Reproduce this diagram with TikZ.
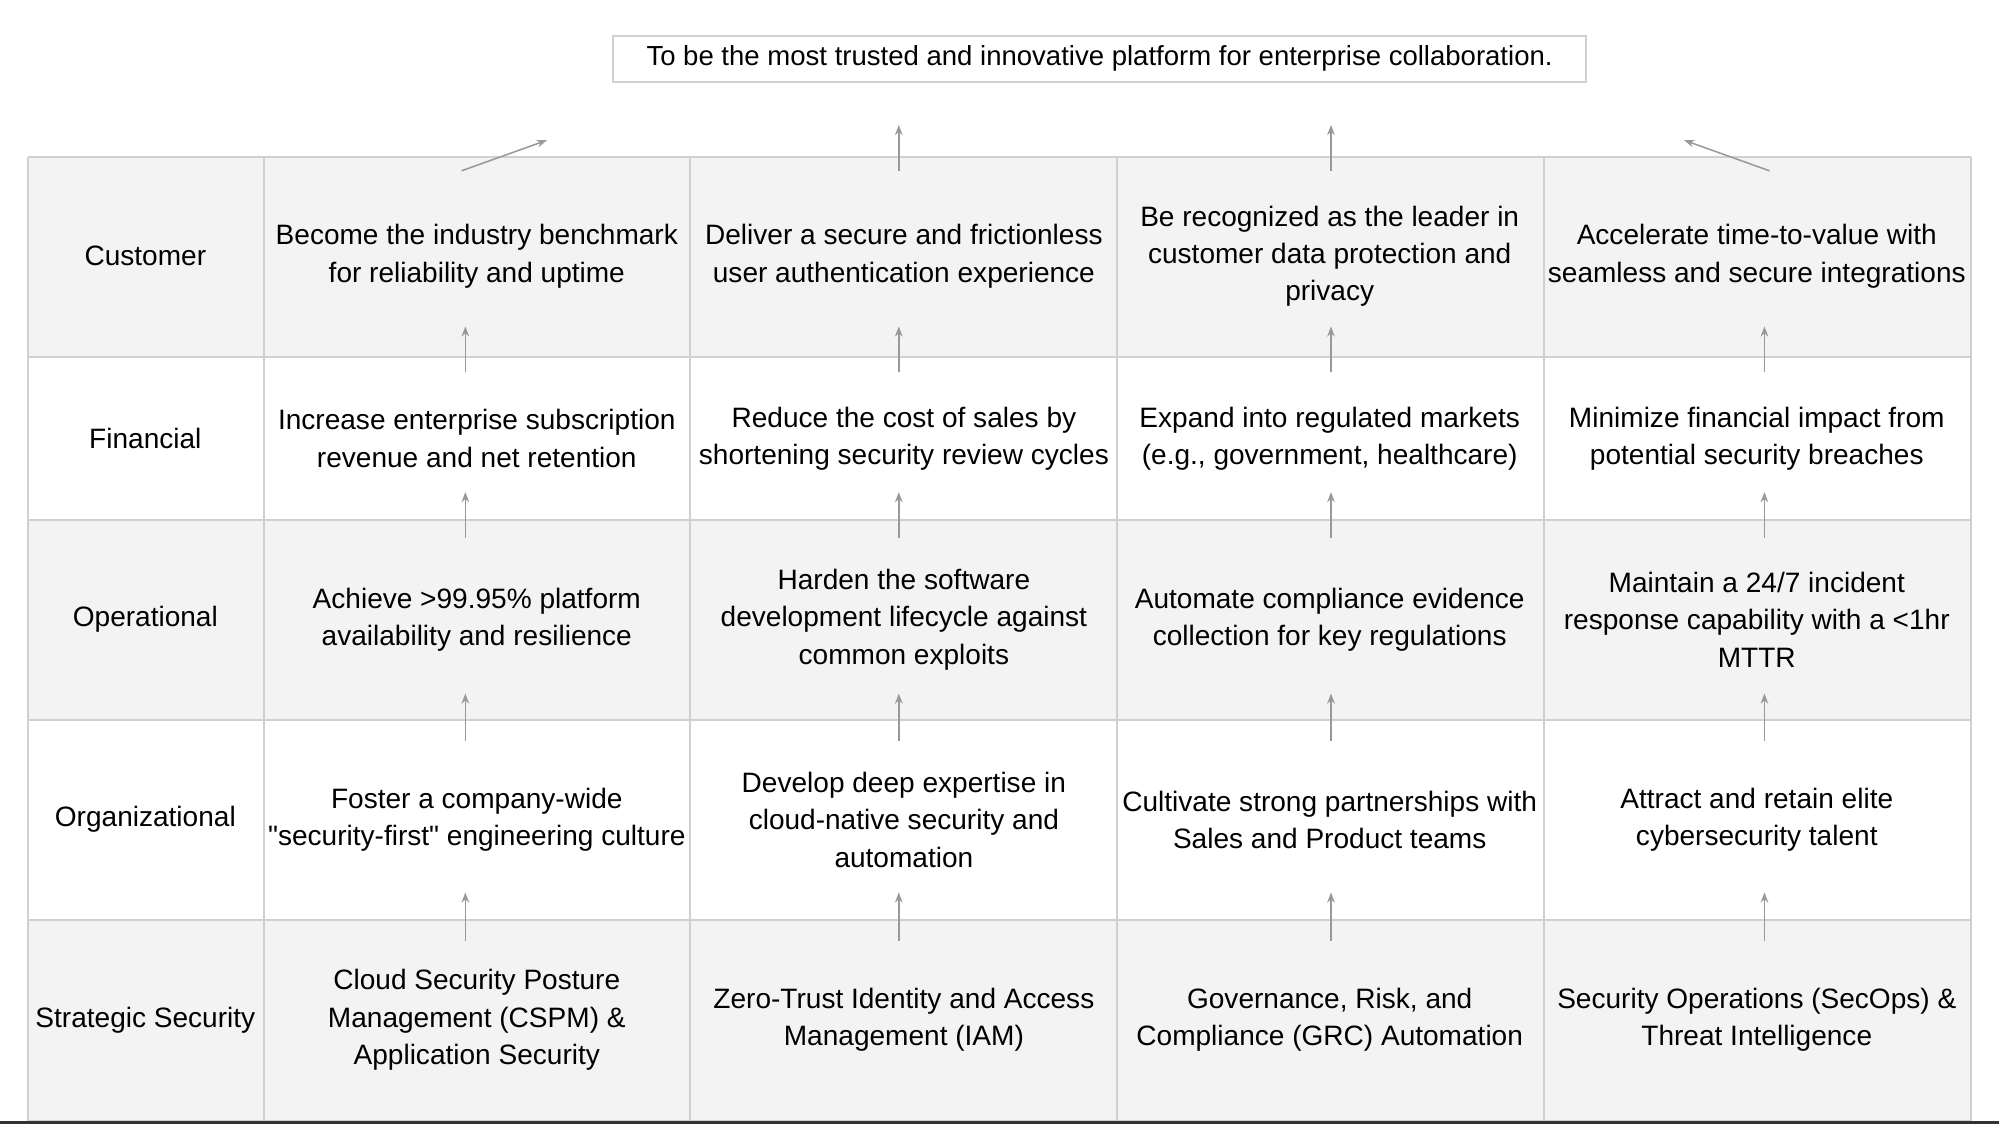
\documentclass[tikz,border=0pt]{standalone}
\usepackage{fontspec}
\setmainfont{Liberation Sans}
\definecolor{cellgray}{HTML}{F3F3F3}
\definecolor{gridline}{HTML}{D0D0D0}
\definecolor{arrowgray}{HTML}{999999}
\usetikzlibrary{arrows.meta}
\tikzset{
  cell/.style={minimum height=#1, inner sep=2pt, align=center, font=\fontsize{11}{14.7}\selectfont},
  goal/.style={cell=#1},
  label/.style={cell=#1},
  up/.style={draw=arrowgray, line width=0.6pt, -{Stealth[length=4pt,width=3pt]}}
}
\begin{document}
\begin{tikzpicture}[x=0.5pt,y=-0.5pt]
\useasboundingbox (0,0) rectangle (1568,882);
% Row backgrounds
\fill[cellgray] (22,123) rectangle (1546,280);
\fill[cellgray] (22,408) rectangle (1546,565);
\fill[cellgray] (22,722) rectangle (1546,879);
% Grid
\foreach \y in {123,280,408,565,722,879} \draw[gridline, line width=0.8pt] (22,\y) -- (1546,\y);
\foreach \x in {22,207,541,876,1211,1546} \draw[gridline, line width=0.8pt] (\x,123) -- (\x,879);
\draw[black!80, line width=1pt] (0,880.5) -- (1568,880.5);

% Vision
\node[draw=gridline, line width=0.8pt, minimum width=763*0.5pt, minimum height=36*0.5pt, inner sep=0pt, font=\fontsize{10.8}{13}\selectfont] (vision) at (862.5,46) {To be the most trusted and innovative platform for enterprise collaboration.};

% Row labels
\node[label=78pt] (lcust) at (114,201) {Customer};
\node[label=64pt] (lfin) at (114,344) {Financial};
\node[label=78pt] (lop) at (114,486) {Operational};
\node[label=78pt] (lorg) at (114,643) {Organizational};
\node[label=78pt] (lsec) at (114,800) {Strategic Security};

% Customer
\node[goal=78pt] (cust1) at (374,201) {Become the industry benchmark\\for reliability and uptime};
\node[goal=78pt] (cust2) at (709,201) {Deliver a secure and frictionless\\user authentication experience};
\node[goal=78pt] (cust3) at (1043,201) {Be recognized as the leader in\\customer data protection and\\privacy};
\node[goal=78pt] (cust4) at (1378,201) {Accelerate time-to-value with\\seamless and secure integrations};
% Financial
\node[goal=64pt] (fin1) at (374,344) {Increase enterprise subscription\\revenue and net retention};
\node[goal=64pt] (fin2) at (709,344) {Reduce the cost of sales by\\shortening security review cycles};
\node[goal=64pt] (fin3) at (1043,344) {Expand into regulated markets\\(e.g., government, healthcare)};
\node[goal=64pt] (fin4) at (1378,344) {Minimize financial impact from\\potential security breaches};
% Operational
\node[goal=78pt] (op1) at (374,486) {Achieve >99.95\% platform\\availability and resilience};
\node[goal=78pt] (op2) at (709,486) {Harden the software\\development lifecycle against\\common exploits};
\node[goal=78pt] (op3) at (1043,486) {Automate compliance evidence\\collection for key regulations};
\node[goal=78pt] (op4) at (1378,486) {Maintain a 24/7 incident\\response capability with a <1hr\\MTTR};
% Organizational
\node[goal=78pt] (org1) at (374,643) {Foster a company-wide\\\textquotedbl security-first\textquotedbl\ engineering culture};
\node[goal=78pt] (org2) at (709,643) {Develop deep expertise in\\cloud-native security and\\automation};
\node[goal=78pt] (org3) at (1043,643) {Cultivate strong partnerships with\\Sales and Product teams};
\node[goal=78pt] (org4) at (1378,643) {Attract and retain elite\\cybersecurity talent};
% Strategic Security
\node[goal=78pt] (sec1) at (374,800) {Cloud Security Posture\\Management (CSPM) \&\\Application Security};
\node[goal=78pt] (sec2) at (709,800) {Zero-Trust Identity and Access\\Management (IAM)};
\node[goal=78pt] (sec3) at (1043,800) {Governance, Risk, and\\Compliance (GRC) Automation};
\node[goal=78pt] (sec4) at (1378,800) {Security Operations (SecOps) \&\\Threat Intelligence};

% Arrows between rows
\foreach \x/\i in {365/1,705/2,1044/3,1384/4}{
  \coordinate (a\i) at (\x,292); \coordinate (b\i) at (\x,256);
  \draw[up] (a\i) -- (b\i);
  \coordinate (c\i) at (\x,422); \coordinate (d\i) at (\x,386);
  \draw[up] (c\i) -- (d\i);
  \coordinate (e\i) at (\x,581); \coordinate (f\i) at (\x,544);
  \draw[up] (e\i) -- (f\i);
  \coordinate (g\i) at (\x,738); \coordinate (h\i) at (\x,700);
  \draw[up] (g\i) -- (h\i);
}
% Arrows to vision
\coordinate (t1) at (362,134); \coordinate (v1) at (429,110);
\coordinate (t2) at (705,134); \coordinate (v2) at (705,98);
\coordinate (t3) at (1044,134); \coordinate (v3) at (1044,98);
\coordinate (t4) at (1388,134); \coordinate (v4) at (1321,110);
\foreach \i in {1,...,4} \draw[up] (t\i) -- (v\i);
\end{tikzpicture}
\end{document}
